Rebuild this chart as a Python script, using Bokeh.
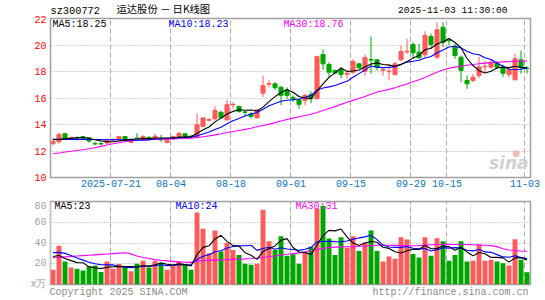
from bokeh.plotting import figure
from bokeh.layouts import column
from bokeh.models import Range1d, FixedTicker, Label, ColumnDataSource, Grid, LinearAxis
from bokeh.embed import file_html
from bokeh.resources import INLINE

# ---------------- data ----------------
tick_idx = [10, 20, 30, 40, 50, 60, 66, 79]
tick_labels = ["2025-07-21", "08-04", "08-18", "09-01", "09-15", "09-29", "10-15", "11-03"]

opens = [12.55, 12.70, 13.30, 12.95, 13.02, 13.08, 13.00, 12.56, 12.56, 12.60,
         12.82, 12.85, 13.09, 12.65, 12.98, 12.92, 13.03, 12.99, 12.87, 12.65,
         12.92, 13.10, 13.30, 13.12, 13.05, 13.85, 14.32, 14.43, 14.93, 14.35,
         15.48, 15.36, 14.95, 14.80, 14.50, 16.36, 17.04, 17.07, 16.82, 16.57,
         16.05, 15.86, 15.82, 16.26, 15.94, 19.28, 18.53, 18.08, 18.13, 17.80,
         17.95, 18.58, 18.00, 18.90, 18.88, 18.10, 17.98, 17.77, 18.88, 19.48,
         20.04, 19.46, 19.26, 20.64, 19.08, 21.34, 20.36, 19.89, 19.08, 17.32,
         17.32, 17.70, 18.36, 18.33, 18.63, 18.33, 17.77, 17.37, 18.88, 18.25]
highs = [13.00, 13.40, 13.35, 13.08, 13.10, 13.12, 13.02, 12.70, 12.65, 12.95,
         12.95, 13.15, 13.10, 12.90, 13.34, 13.20, 13.12, 13.30, 13.22, 12.95,
         13.15, 13.45, 13.32, 13.15, 14.85, 14.55, 14.50, 15.36, 15.00, 15.86,
         15.68, 15.42, 15.05, 14.93, 15.15, 17.70, 17.35, 17.20, 16.88, 16.80,
         16.19, 15.90, 16.30, 16.50, 19.20, 19.64, 18.70, 18.15, 18.30, 18.08,
         18.95, 18.65, 19.28, 20.64, 18.95, 18.32, 18.58, 18.70, 19.96, 20.47,
         20.21, 20.09, 21.04, 20.85, 21.72, 21.72, 20.47, 20.09, 19.21, 17.70,
         17.80, 19.10, 18.80, 18.95, 18.80, 18.53, 18.30, 19.33, 19.58, 18.40]
lows = [12.45, 12.55, 12.95, 12.92, 12.80, 12.90, 12.62, 12.42, 12.45, 12.50,
        12.78, 12.80, 12.78, 12.60, 12.88, 12.85, 12.80, 12.95, 12.70, 12.55,
        12.88, 13.05, 13.05, 12.95, 13.00, 13.80, 14.25, 14.30, 14.45, 14.30,
        15.20, 14.90, 14.60, 14.45, 14.45, 16.06, 16.80, 16.60, 15.45, 15.95,
        15.70, 15.20, 15.45, 15.60, 15.90, 18.13, 17.57, 17.80, 17.50, 17.45,
        17.83, 18.20, 17.70, 17.83, 18.08, 17.70, 17.32, 17.70, 18.78, 19.33,
        18.96, 18.96, 19.08, 19.71, 18.96, 19.83, 19.96, 18.96, 17.19, 16.69,
        17.20, 17.50, 17.90, 18.20, 18.20, 17.57, 17.55, 17.37, 17.83, 17.85]
closes = [12.70, 13.25, 12.97, 13.03, 12.99, 12.95, 12.75, 12.54, 12.53, 12.78,
          12.88, 13.09, 12.80, 12.85, 12.93, 13.09, 12.93, 13.12, 12.84, 12.90,
          13.10, 13.33, 13.10, 13.08, 13.98, 14.50, 14.37, 15.06, 14.50, 15.50,
          15.52, 14.98, 14.92, 14.60, 15.10, 16.94, 17.10, 16.78, 16.20, 16.20,
          15.87, 15.52, 16.19, 15.95, 19.13, 18.58, 17.95, 17.88, 17.78, 17.86,
          18.75, 18.28, 19.05, 18.86, 18.33, 18.15, 18.02, 18.58, 19.51, 19.53,
          19.41, 19.04, 20.72, 20.04, 21.15, 20.21, 20.32, 19.21, 18.08, 17.07,
          17.57, 18.35, 18.40, 18.70, 18.33, 17.87, 18.13, 18.96, 18.28, 18.22]
price_ma5 = [12.86, 12.88, 12.92, 12.95, 12.99, 13.04, 12.94, 12.85, 12.75, 12.71,
             12.70, 12.76, 12.82, 12.88, 12.91, 12.95, 12.92, 12.98, 12.98, 12.98,
             12.98, 13.06, 13.05, 13.10, 13.32, 13.60, 13.81, 14.20, 14.48, 14.79,
             14.99, 15.11, 15.08, 15.10, 15.02, 15.31, 15.73, 16.10, 16.42, 16.64,
             16.43, 16.11, 16.00, 15.95, 16.53, 17.07, 17.56, 17.90, 18.26, 18.01,
             18.04, 18.11, 18.34, 18.56, 18.65, 18.53, 18.48, 18.39, 18.52, 18.76,
             19.01, 19.21, 19.64, 19.75, 20.07, 20.23, 20.49, 20.19, 19.79, 18.98,
             18.45, 18.06, 17.89, 18.02, 18.27, 18.33, 18.29, 18.40, 18.31, 18.29]
price_ma10 = [12.88, 12.88, 12.88, 12.88, 12.88, 12.88, 12.87, 12.87, 12.86, 12.85,
              12.87, 12.85, 12.83, 12.82, 12.81, 12.82, 12.84, 12.90, 12.93, 12.94,
              12.97, 12.99, 13.02, 13.04, 13.15, 13.29, 13.43, 13.63, 13.79, 14.05,
              14.29, 14.46, 14.64, 14.79, 14.91, 15.15, 15.42, 15.59, 15.76, 15.83,
              15.87, 15.92, 16.05, 16.19, 16.59, 16.75, 16.84, 16.95, 17.11, 17.27,
              17.56, 17.84, 18.12, 18.41, 18.33, 18.29, 18.30, 18.37, 18.54, 18.71,
              18.77, 18.85, 19.02, 19.13, 19.42, 19.62, 19.85, 19.91, 19.77, 19.53,
              19.34, 19.27, 19.04, 18.91, 18.62, 18.39, 18.17, 18.15, 18.17, 18.28]
price_ma30 = [11.79, 11.85, 11.92, 11.98, 12.04, 12.10, 12.17, 12.25, 12.35, 12.45,
              12.55, 12.62, 12.70, 12.77, 12.82, 12.85, 12.87, 12.88, 12.89, 12.90,
              12.91, 12.92, 12.94, 12.97, 13.02, 13.07, 13.14, 13.22, 13.30, 13.39,
              13.47, 13.55, 13.63, 13.72, 13.83, 13.93, 14.03, 14.14, 14.26, 14.38,
              14.48, 14.58, 14.68, 14.78, 14.90, 15.05, 15.20, 15.35, 15.52, 15.68,
              15.82, 15.96, 16.12, 16.28, 16.45, 16.55, 16.65, 16.78, 16.92, 17.06,
              17.22, 17.38, 17.55, 17.75, 17.95, 18.12, 18.24, 18.33, 18.40, 18.47,
              18.53, 18.58, 18.63, 18.67, 18.70, 18.73, 18.75, 18.77, 18.78, 18.79]
volumes = [14.3, 37.3, 22.2, 16.5, 15.3, 13.4, 17.5, 18.4, 12.1, 22.2,
           15.3, 19.7, 16.5, 12.7, 20.0, 22.8, 16.5, 22.8, 21.3, 14.3,
           19.1, 22.2, 19.1, 14.3, 69.5, 53.7, 30.1, 52.1, 31.7, 40.2,
           33.2, 28.5, 20.0, 19.1, 20.0, 72.1, 41.8, 33.2, 46.5, 27.6,
           29.1, 20.0, 31.0, 36.4, 73.3, 75.8, 44.3, 28.5, 45.5, 35.4,
           46.5, 32.3, 40.5, 52.1, 32.3, 22.2, 26.9, 24.7, 45.5, 43.3,
           29.4, 26.0, 45.5, 27.6, 44.6, 41.8, 22.8, 28.5, 41.8, 22.2,
           22.8, 38.9, 22.8, 23.8, 22.2, 20.6, 18.4, 43.6, 23.8, 11.8]
vol_ma5 = [27.0, 28.0, 25.0, 23.0, 21.1, 20.9, 17.0, 16.2, 15.3, 16.7,
           17.1, 17.5, 17.2, 17.3, 16.8, 18.3, 17.7, 19.0, 20.7, 19.5,
           18.8, 19.9, 19.2, 17.8, 28.8, 35.8, 37.3, 43.9, 47.4, 41.6,
           37.5, 37.1, 30.7, 28.2, 24.2, 31.9, 34.6, 37.2, 42.7, 44.2,
           35.6, 31.3, 30.8, 28.8, 38.0, 47.3, 52.2, 51.7, 53.5, 45.9,
           40.0, 37.6, 40.0, 41.4, 40.7, 35.9, 34.8, 31.6, 30.3, 32.5,
           34.0, 33.8, 37.9, 34.4, 34.6, 37.1, 36.5, 33.1, 35.9, 31.4,
           27.6, 30.8, 29.7, 26.1, 26.1, 25.7, 21.6, 25.7, 25.7, 23.6]
vol_ma10 = [30.7, 31.0, 30.0, 28.0, 25.5, 23.5, 21.5, 20.0, 19.0, 18.9,
            19.0, 17.3, 16.7, 16.3, 16.8, 17.7, 17.6, 18.1, 19.0, 18.2,
            18.6, 18.8, 19.1, 19.2, 24.2, 27.3, 28.6, 31.6, 32.6, 35.2,
            36.6, 37.2, 37.3, 37.8, 32.9, 34.7, 35.9, 34.0, 35.5, 34.2,
            33.8, 32.9, 34.0, 35.8, 41.1, 41.5, 41.7, 41.3, 41.2, 41.9,
            43.7, 44.9, 45.9, 47.4, 43.3, 38.0, 36.2, 35.8, 35.8, 36.6,
            34.9, 34.3, 34.8, 32.3, 33.6, 35.5, 35.1, 35.5, 35.1, 33.0,
            32.4, 33.7, 31.4, 31.0, 28.8, 26.6, 26.2, 27.7, 25.9, 24.9]
vol_ma30 = [25.8, 26.2, 26.6, 27.0, 27.4, 27.8, 28.2, 28.6, 29.0, 29.4,
            29.8, 30.2, 30.6, 29.5, 27.5, 26.0, 25.0, 24.0, 23.3, 22.8,
            22.3, 21.8, 21.4, 21.3, 22.5, 23.1, 23.3, 23.5, 23.7, 23.9,
            24.2, 24.5, 24.7, 25.0, 25.4, 26.0, 26.8, 27.5, 28.5, 29.1,
            29.8, 30.5, 31.5, 32.8, 33.8, 34.8, 35.5, 36.0, 36.3, 36.4,
            36.5, 36.8, 37.1, 37.5, 37.8, 37.9, 37.9, 37.7, 37.5, 37.3,
            37.3, 37.5, 38.0, 38.3, 38.6, 38.7, 38.7, 38.6, 38.6, 38.5,
            38.3, 38.1, 37.9, 37.5, 36.5, 34.5, 33.2, 32.8, 32.3, 32.0]
price_ticks = [10, 12, 14, 16, 18, 20, 22]
vol_ticks = [0, 20, 40, 60, 80]
price_ma_text = ["MA5:18.25", "MA10:18.23", "MA30:18.76"]
vol_ma_text = ["MA5:23", "MA10:24", "MA30:31"]
header_code = "sz300772"
header_title = "运达股份 － 日K线图"
header_time = "2025-11-03 11:30:00"
footer_texts = ["Copyright 2025 SINA.COM", "http://finance.sina.com.cn"]

# ---------------- styles ----------------
UP, DOWN = "#ff5a5a", "#00a600"
MA_COLORS = ["#000000", "#0000ff", "#ff00ff"]
MONO = "Liberation Mono"
CJK = "Noto Sans CJK SC"
GRID = "#a8a8a8"
FRAME = "#a0a0a0"

n = len(closes)
xs = [i + 0.35 for i in range(n)]
colors = [UP if c >= o else DOWN for o, c in zip(opens, closes)]
src = ColumnDataSource(dict(
    x=xs, o=opens, h=highs, l=lows, c=closes,
    top=[max(o, c) for o, c in zip(opens, closes)],
    bot=[min(o, c) for o, c in zip(opens, closes)],
    color=colors, vol=volumes,
    pma5=price_ma5, pma10=price_ma10, pma30=price_ma30,
    vma5=vol_ma5, vma10=vol_ma10, vma30=vol_ma30))

xr = Range1d(-0.07, 79.93)


def style_common(p):
    p.background_fill_color = "white"
    p.border_fill_color = "white"
    p.outline_line_color = FRAME
    p.outline_line_width = 1.5


# ---------------- header strip (its frame is aligned with the panels: x 50..530) ----------------
hdr = figure(width=545, height=15, x_range=Range1d(0, 480), y_range=Range1d(0, 15),
             output_backend="svg", toolbar_location=None, title=None,
             x_axis_location=None, y_axis_location=None,
             min_border=0, min_border_left=50, min_border_right=15,
             min_border_top=0, min_border_bottom=0)
hdr.outline_line_color = None
hdr.border_fill_color = "white"
hdr.grid.visible = False
hdr.add_layout(Label(x=0, y=5, x_units="screen", y_units="screen", text=header_code,
                     text_font=MONO, text_font_size="10.3px",
                     text_baseline="middle", text_color="black"))
hdr.add_layout(Label(x=66, y=7.5, x_units="screen", y_units="screen", text=header_title,
                     text_font=CJK, text_font_size="10.3px",
                     text_baseline="middle", text_color="black"))
hdr.add_layout(Label(x=457, y=5, x_units="screen", y_units="screen", text=header_time,
                     text_font=MONO, text_font_size="9.6px",
                     text_baseline="middle", text_align="right", text_color="black"))

# ---------------- price panel ----------------
p1 = figure(width=545, height=185, x_range=xr, y_range=Range1d(10, 22),
            output_backend="svg", toolbar_location=None, title=None,
            min_border_left=50, min_border_right=15, min_border_top=3, min_border_bottom=23)
style_common(p1)
p1.yaxis.ticker = FixedTicker(ticks=price_ticks)
p1.xaxis.ticker = FixedTicker(ticks=tick_idx)
p1.xaxis.major_label_overrides = {t: s for t, s in zip(tick_idx, tick_labels)}
for ax in (p1.xaxis, p1.yaxis):
    ax.axis_line_color = None
    ax.major_tick_line_color = None
    ax.minor_tick_line_color = None
    ax.major_tick_out = 0
    ax.major_label_text_font = MONO
    ax.major_label_text_font_size = "10px"
p1.yaxis.major_label_text_color = "#ff0000"
p1.yaxis.major_label_standoff = 4
p1.xaxis.major_label_text_color = "#0a74c8"
p1.xaxis.major_label_standoff = 2
p1.xgrid.grid_line_color = GRID
p1.xgrid.grid_line_dash = "5 3"
p1.ygrid.grid_line_color = GRID
p1.ygrid.grid_line_dash = "1 2"

p1.segment(x0="x", y0="l", x1="x", y1="h", color="color", line_width=1, source=src)
p1.vbar(x="x", width=0.68, top="top", bottom="bot", fill_color="color",
        line_color="color", line_width=1, source=src)
p1.line("x", "pma30", color=MA_COLORS[2], line_width=1.1, source=src)
p1.line("x", "pma10", color=MA_COLORS[1], line_width=1.1, source=src)
p1.line("x", "pma5", color=MA_COLORS[0], line_width=1.1, source=src)

for txt, xpos, col in zip(price_ma_text, [2, 118, 233], MA_COLORS):
    p1.add_layout(Label(x=xpos, y=153.5, x_units="screen", y_units="screen", text=txt,
                        text_font=MONO, text_font_size="10px", text_baseline="middle",
                        text_color=col))
p1.add_layout(Label(x=478, y=5, x_units="screen", y_units="screen", text="sina",
                    text_font="DejaVu Sans", text_font_size="17px",
                    text_font_style="bold italic", text_align="right",
                    text_color="#d0d0d0"))
p1.add_layout(Label(x=466, y=20, x_units="screen", y_units="screen", text="●",
                    text_font="DejaVu Sans", text_font_size="9px", text_align="center",
                    text_color="#f4b8b8"))

# ---------------- volume panel ----------------
p2 = figure(width=545, height=100, x_range=xr, y_range=Range1d(0, 80),
            output_backend="svg", toolbar_location=None, title=None,
            x_axis_location=None,
            min_border_left=50, min_border_right=15, min_border_top=1, min_border_bottom=15)
style_common(p2)
p2.yaxis.ticker = FixedTicker(ticks=vol_ticks)
p2.yaxis.major_label_overrides = {0: "x万"}
p2.yaxis.axis_line_color = None
p2.yaxis.major_tick_line_color = None
p2.yaxis.minor_tick_line_color = None
p2.yaxis.major_tick_out = 0
p2.yaxis.major_label_text_font = MONO
p2.yaxis.major_label_text_font_size = "10px"
p2.yaxis.major_label_text_color = "#a0a0a0"
p2.yaxis.major_label_standoff = 4
p2.ygrid.grid_line_color = GRID
p2.ygrid.grid_line_dash = "1 2"
p2.add_layout(Grid(dimension=0, ticker=FixedTicker(ticks=tick_idx),
                   grid_line_color=GRID, grid_line_dash="5 3"))

# footer texts carried by an axis on a pixel-like extra range below the volume panel
p2.extra_x_ranges = {"foot": Range1d(0, 480)}
foot_pos = [68, 400]
foot_axis = LinearAxis(x_range_name="foot", ticker=FixedTicker(ticks=foot_pos),
                       major_label_overrides={t: s for t, s in zip(foot_pos, footer_texts)},
                       axis_line_color=None, major_tick_line_color=None,
                       minor_tick_line_color=None, major_tick_out=0,
                       major_label_standoff=2, major_label_text_font=MONO,
                       major_label_text_font_size="10px",
                       major_label_text_color="#8a8a8a")
p2.add_layout(foot_axis, "below")

p2.vbar(x="x", top="vol", bottom=0, width=0.82, fill_color="color", line_color=None, source=src)
p2.line("x", "vma30", color=MA_COLORS[2], line_width=1.1, source=src)
p2.line("x", "vma10", color=MA_COLORS[1], line_width=1.1, source=src)
p2.line("x", "vma5", color=MA_COLORS[0], line_width=1.1, source=src)

for txt, xpos, col in zip(vol_ma_text, [4, 125, 245], MA_COLORS):
    p2.add_layout(Label(x=xpos, y=78.5, x_units="screen", y_units="screen", text=txt,
                        text_font=MONO, text_font_size="10px", text_baseline="middle",
                        text_color=col))

layout = column(hdr, p1, p2, spacing=0)
open("out.html", "w").write(file_html(layout, INLINE))
